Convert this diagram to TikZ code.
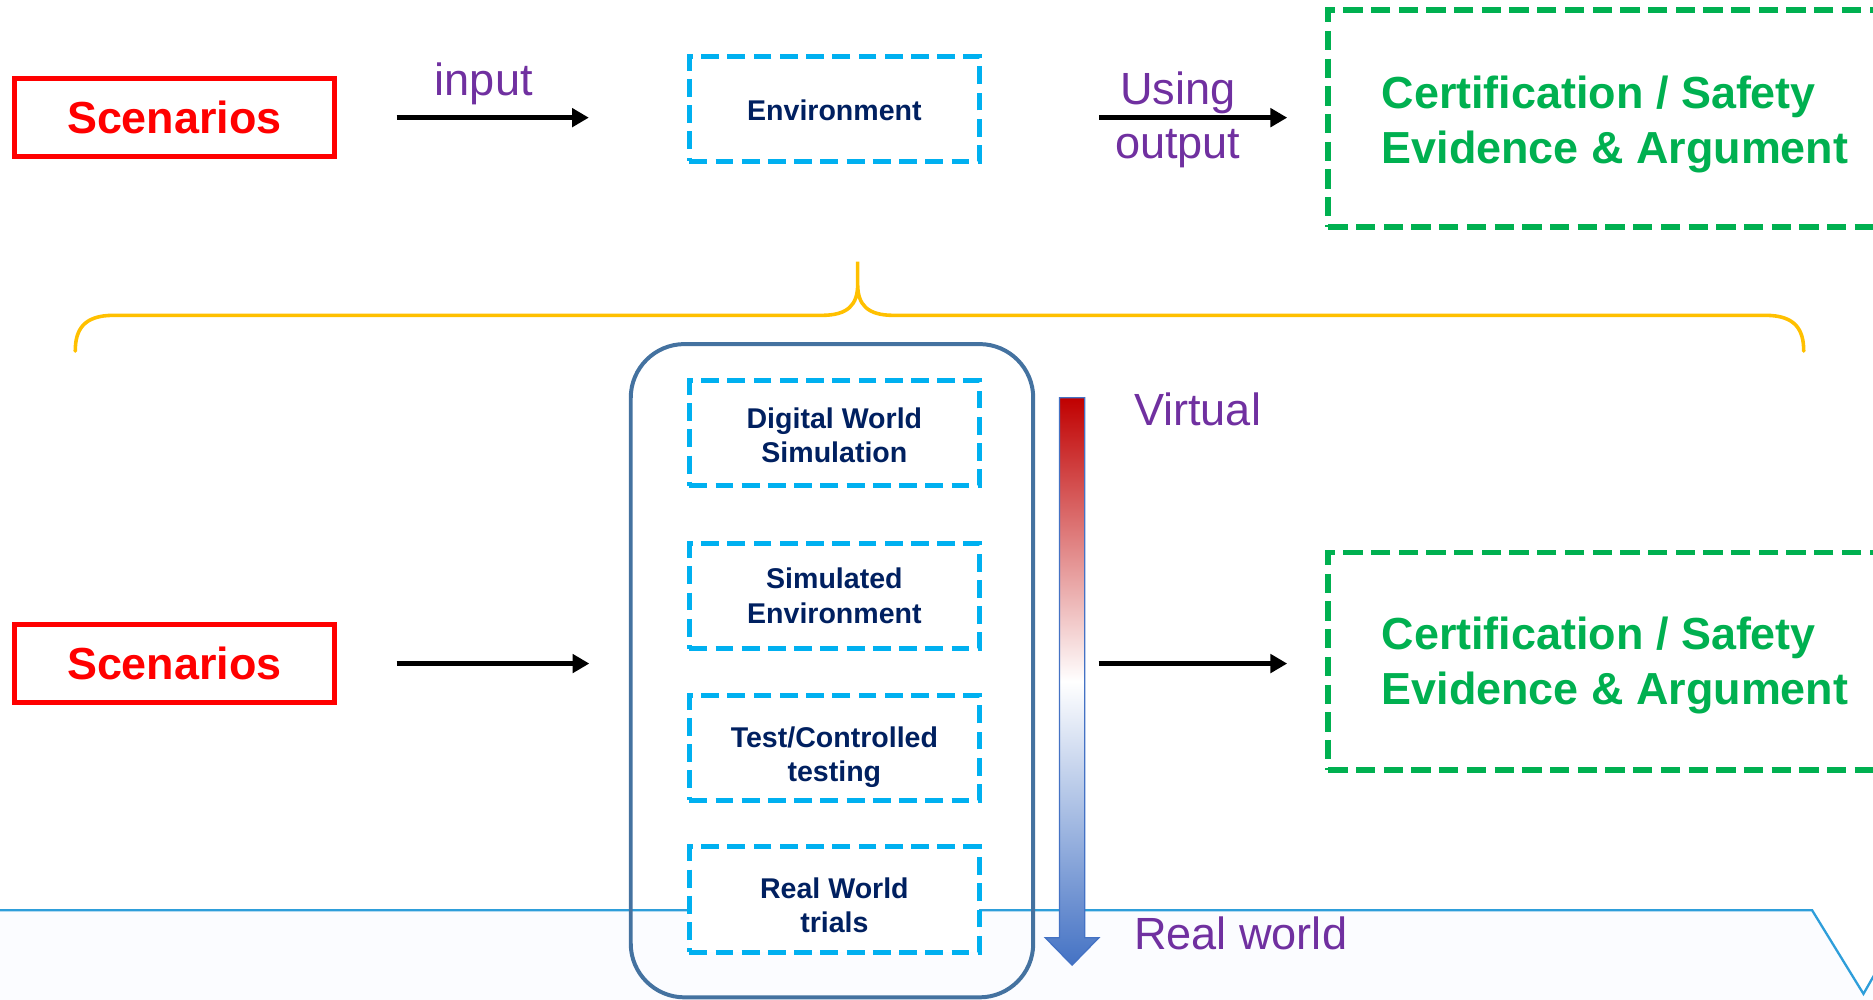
\documentclass[tikz,border=0pt]{standalone}
\usepackage{fontspec}
\setmainfont{Liberation Sans}
\usetikzlibrary{positioning,arrows.meta}

\definecolor{scenred}{RGB}{255,0,0}
\definecolor{envcyan}{RGB}{0,176,240}
\definecolor{envnavy}{RGB}{0,32,96}
\definecolor{certgreen}{RGB}{0,176,80}
\definecolor{lblpurple}{RGB}{112,48,160}
\definecolor{bracegold}{RGB}{255,192,0}
\definecolor{stackblue}{RGB}{68,114,160}
\definecolor{footblue}{RGB}{46,158,218}
\definecolor{footbg}{RGB}{251,252,255}
\definecolor{virtred}{RGB}{192,0,0}
\definecolor{realblue}{RGB}{68,114,196}

\begin{document}
\begin{tikzpicture}[x=0.02cm, y=-0.02cm,
		scen/.style={
			draw=scenred, line width=2.3pt, text=scenred,
			font=\bfseries\fontsize{21.4}{26}\selectfont,
			minimum width=5.36cm, minimum height=1.3cm, inner sep=0
		},
		env/.style={
			draw=envcyan, line width=2.4pt, dash pattern=on 8.5pt off 4pt,
			fill=white, minimum width=4.86cm, minimum height=1.76cm, inner sep=0
		},
		envtxt/.style={
			text=envnavy, align=center, inner sep=0,
			font=\bfseries\fontsize{13.6}{16.5}\selectfont
		},
		cert/.style={
			draw=certgreen, line width=2.8pt, dash pattern=on 9.2pt off 4pt,
			minimum width=9.6cm, minimum height=3.64cm
		},
		certtxt/.style={
			text=certgreen, align=left, inner sep=0,
			font=\bfseries\fontsize{21.4}{26.2}\selectfont
		},
		stack/.style={
			draw=stackblue, line width=1.9pt, rounded corners=0.9cm,
			minimum width=6.74cm, minimum height=10.94cm
		},
		lbl/.style={text=lblpurple, font=\fontsize{21.5}{26}\selectfont, inner sep=0},
		arr/.style={->, line width=2.2pt},
		>={Triangle[length=8pt,width=8.7pt]}
		]
		\useasboundingbox (0,0) rectangle (1568,837);
		\clip (0,0) rectangle (1568,837);
		% footer band
		\fill[footbg] (0,762) -- (1517,762) -- (1560,832) -- (1600,762) -- (1600,837) -- (0,837) -- cycle;
		\draw[footblue, line width=1.1pt] (0,762) -- (1517,762) -- (1560,832) -- (1600,762);
		% top row
		\node[scen] (scen1) at (146,98.5) {Scenarios};
		\node[env] (env) at (698.5,91) {};
		\node[envtxt] (envtxt) at (698.5,92) {Environment};
		\node[cert] (cert1) at (1352,99) {};
		\node[certtxt] (certtxt1) at (1352,104) {Certification / Safety\\Evidence \& Argument};
		\draw[arr, shorten <=1cm, shorten >=1.64cm] (scen1.east) -- node[lbl, above=0.18cm, pos=0.42] {input} (scen1 -| env.west);
		\draw[arr, shorten <=1.96cm, shorten >=0.64cm] (scen1 -| env.east) --
			node[lbl, above=0.02cm, pos=0.57] {Using}
			node[lbl, below=0.16cm, pos=0.57] {output} (scen1 -| cert1.west);
		% brace
		\draw[bracegold, line width=1.7pt, line cap=round]
			(63,294) .. controls (63,276) and (70,264) .. (95,264) -- (688,264)
			.. controls (710,264) and (718,255) .. (718,238) -- (718,219)
			-- (718,238) .. controls (718,255) and (726,264) .. (748,264) -- (1478,264)
			.. controls (1503,264) and (1510,276) .. (1510,294);
		% environment stack
		\node[stack] (stack) at (696.5,561.5) {};
		\foreach \y/\dy/\txt [count=\i] in {362.5/2/{Digital World\\Simulation}, 499/0/{Simulated\\Environment},
			626/8/{Test/Controlled\\testing}, 753/5/{Real World\\trials}}
		{
			\node[env] (sim\i) at (698.5,\y) {};
			\node[envtxt] (simtxt\i) at (698.5,\y+\dy) {\txt};
		}
		% virtual -> real scale
		\shade[top color=virtred, bottom color=realblue, middle color=white, draw=realblue, line width=0.6pt]
			(887,333) -- (908,333) -- (908,785) -- (920,785) -- (897.5,808) -- (875,785) -- (887,785) -- cycle;
		\node[lbl, anchor=west] (virt) at (949,343) {Virtual};
		\node[lbl, anchor=west] (real) at (949,781) {Real world};
		% bottom row
		\node[scen] (scen2) at (146,555.5) {Scenarios};
		\node[cert] (cert2) at (1352,553.5) {};
		\node[certtxt] (certtxt2) at (1352,557.5) {Certification / Safety\\Evidence \& Argument};
		\draw[arr, shorten <=1cm, shorten >=0.66cm] (scen2.east) -- (scen2 -| stack.west);
		\draw[arr, shorten <=1.06cm, shorten >=0.64cm] (scen2 -| stack.east) -- (scen2 -| cert2.west);
\end{tikzpicture}
\end{document}
